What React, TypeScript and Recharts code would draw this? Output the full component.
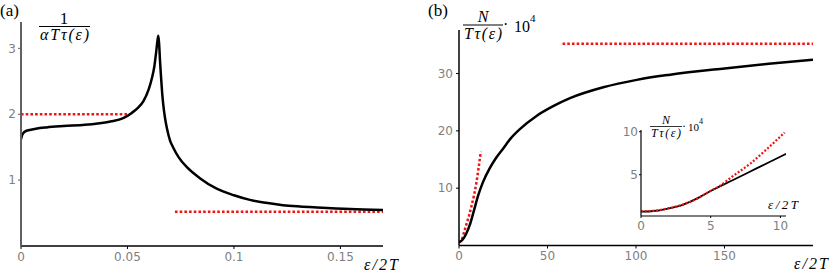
import { LineChart, Line, XAxis, YAxis } from 'recharts'

// panel (a): 1 / (alpha T tau(eps)) vs eps/2T
const aX = [0, 0.0005, 0.001, 0.002, 0.004, 0.007, 0.012, 0.02, 0.03, 0.036, 0.042, 0.048, 0.052, 0.055, 0.0575, 0.06, 0.0615, 0.0626, 0.0635, 0.0641, 0.0645, 0.0649, 0.0653, 0.0658, 0.0663, 0.0668, 0.0676, 0.0685, 0.07, 0.0714, 0.074, 0.0778, 0.084, 0.0919, 0.1, 0.1075, 0.115, 0.123, 0.131, 0.139, 0.1545, 0.17]
const aY = [1.62, 1.68, 1.71, 1.74, 1.76, 1.78, 1.8, 1.82, 1.84, 1.86, 1.89, 1.94, 2.02, 2.1, 2.2, 2.38, 2.55, 2.72, 2.95, 3.12, 3.19, 3.05, 2.8, 2.55, 2.32, 2.15, 1.95, 1.79, 1.6, 1.5, 1.35, 1.2, 1.03, 0.87, 0.77, 0.7, 0.655, 0.62, 0.6, 0.585, 0.56, 0.545]
const aLowLimitX = [0, 0.05]
const aLowLimitY = [2, 2]
const aHighLimitX = [0.0723, 0.17]
const aHighLimitY = [0.52, 0.52]
const aXTicks = [0, 0.05, 0.1, 0.15]
const aYTicks = [1, 2, 3]

// panel (b): N / (T tau(eps)) * 10^4
const bX = [0, 2, 4, 6, 8, 10.8, 13.6, 17.4, 21, 24.9, 29, 34.4, 43.8, 53.2, 62.7, 81.5, 100.4, 119.3, 150, 175, 200]
const bY = [0.6, 1.0, 2.0, 3.5, 5.6, 8.7, 11.1, 13.5, 15.3, 16.9, 18.6, 20.3, 22.6, 24.3, 25.7, 27.6, 28.9, 29.8, 30.9, 31.7, 32.4]
const bLowX = [0, 1.5, 3.2, 5, 7, 9.8, 12.3]
const bLowY = [0.5, 1.0, 2.7, 4.5, 6.8, 10.9, 16.4]
const bHighX = [58.5, 200]
const bHighY = [35.2, 35.2]
const bXTicks = [0, 50, 100, 150]
const bYTicks = [10, 20, 30]

// inset of (b)
const iX = [0, 0.9, 1.85, 3.04, 4.24, 4.96, 6.64, 7.84, 9.04, 10.4]
const iY = [0.7, 0.78, 1.04, 1.53, 2.42, 3.07, 4.42, 5.38, 6.34, 7.42]
const iRedX = [0, 0.9, 1.85, 3.04, 4.24, 4.96, 5.5, 6.64, 7.84, 9.04, 10.3]
const iRedY = [0.75, 0.8, 1.05, 1.55, 2.4, 3.1, 3.55, 4.9, 6.3, 8.0, 9.9]
const iXTicks = [0, 5, 10]
const iYTicks = [5, 10]

const zip = (xs: number[], ys: number[]) => xs.map((x, i) => ({ x, y: ys[i] }))

const RED = '#f01414'
const tickStyle = { fill: '#808080', fontSize: 12, fontFamily: 'DejaVu Sans' }
const serif = { fontFamily: "'Liberation Serif', serif", fontWeight: 400 }
const serifIt = { ...serif, fontStyle: 'italic' }

export default function App() {
  return (
    <div style={{ position: 'absolute', left: 0, top: 0, width: 830, height: 273, background: '#fff' }}>
      <div style={{ position: 'absolute', left: 0, top: 0 }}>
        <LineChart width={420} height={273} margin={{ top: 22, right: 37, left: 0, bottom: 7 }}>
          <XAxis dataKey="x" type="number" domain={[0, 0.17]} ticks={aXTicks} allowDataOverflow
            tick={tickStyle} tickSize={3} tickMargin={3} height={20}
            axisLine={{ stroke: '#000', strokeWidth: 1.5 }} tickLine={{ stroke: '#000' }} />
          <YAxis type="number" domain={[0, 3.4]} ticks={aYTicks} allowDataOverflow width={21}
            tick={tickStyle} tickSize={3} tickMargin={2}
            axisLine={{ stroke: '#606060', strokeWidth: 2 }} tickLine={{ stroke: '#606060' }} />
          <Line data={zip(aLowLimitX, aLowLimitY)} dataKey="y" type="linear" stroke={RED} strokeWidth={2.5} strokeDasharray="2.6 2.1" dot={false} isAnimationActive={false} />
          <Line data={zip(aHighLimitX, aHighLimitY)} dataKey="y" type="linear" stroke={RED} strokeWidth={2.5} strokeDasharray="2.6 2.1" dot={false} isAnimationActive={false} />
          <Line data={zip(aX, aY)} dataKey="y" type="monotone" stroke="#000" strokeWidth={2.5} dot={false} isAnimationActive={false} />
        </LineChart>
      </div>

      <div style={{ position: 'absolute', left: 420, top: 0 }}>
        <LineChart width={410} height={273} margin={{ top: 30, right: 17, left: 0, bottom: 7.5 }}>
          <XAxis dataKey="x" type="number" domain={[0, 200]} ticks={bXTicks} allowDataOverflow
            tick={tickStyle} tickSize={3} tickMargin={3} height={20}
            axisLine={{ stroke: '#000', strokeWidth: 1.5 }} tickLine={{ stroke: '#000' }} />
          <YAxis type="number" domain={[0, 37.6]} ticks={bYTicks} allowDataOverflow width={39}
            tick={tickStyle} tickSize={3} tickMargin={3}
            axisLine={{ stroke: '#000', strokeWidth: 1.5 }} tickLine={{ stroke: '#000' }} />
          <Line data={zip(bHighX, bHighY)} dataKey="y" type="linear" stroke={RED} strokeWidth={2.5} strokeDasharray="2.6 2.1" dot={false} isAnimationActive={false} />
          <Line data={zip(bLowX, bLowY)} dataKey="y" type="monotone" stroke={RED} strokeWidth={2.5} strokeDasharray="2.6 2.1" dot={false} isAnimationActive={false} />
          <Line data={zip(bX, bY)} dataKey="y" type="monotone" stroke="#000" strokeWidth={2.5} dot={false} isAnimationActive={false} />
        </LineChart>
      </div>

      <div style={{ position: 'absolute', left: 600, top: 110 }}>
        <LineChart width={200} height={130} margin={{ top: 20, right: 14, left: 0, bottom: 0 }}>
          <XAxis dataKey="x" type="number" domain={[0, 10.4]} ticks={iXTicks} allowDataOverflow
            tick={tickStyle} tickSize={2} tickMargin={3} height={24}
            axisLine={{ stroke: '#000', strokeWidth: 1.2 }} tickLine={{ stroke: '#000' }} />
          <YAxis type="number" domain={[0.2, 10.2]} ticks={iYTicks} allowDataOverflow width={41}
            tick={tickStyle} tickSize={2} tickMargin={1}
            axisLine={{ stroke: '#000', strokeWidth: 1.2 }} tickLine={{ stroke: '#000' }} />
          <Line data={zip(iX, iY)} dataKey="y" type="monotone" stroke="#000" strokeWidth={1.8} dot={false} isAnimationActive={false} />
          <Line data={zip(iRedX, iRedY)} dataKey="y" type="monotone" stroke={RED} strokeWidth={2.2} strokeDasharray="2 1.8" dot={false} isAnimationActive={false} />
        </LineChart>
      </div>

      <svg width={830} height={273} style={{ position: 'absolute', left: 0, top: 0, pointerEvents: 'none' }}>
        <g fill="#000">
          <text x={0} y={16} fontSize={17} style={serif}>(a)</text>
          <text x={428} y={16} fontSize={17} style={serif}>(b)</text>

          <text x={64} y={23.5} fontSize={17} textAnchor="middle" style={serif}>1</text>
          <line x1={39} x2={90} y1={26.5} y2={26.5} stroke="#000" strokeWidth={1} />
          <text x={40} y={40} fontSize={16} textLength={49} style={serifIt}>αTτ(ε)</text>

          <text x={483} y={21.5} fontSize={16} textAnchor="middle" style={serifIt}>N</text>
          <line x1={463} x2={503} y1={25} y2={25} stroke="#000" strokeWidth={1} />
          <text x={464} y={39} fontSize={16} textLength={38} style={serifIt}>Tτ(ε)</text>
          <text x={503} y={30} fontSize={16} style={serif}>·</text>
          <text x={514} y={32} fontSize={16} style={serif}>10</text>
          <text x={530} y={22} fontSize={11} style={serif}>4</text>

          <text x={666} y={124} fontSize={12} textAnchor="middle" style={serifIt}>N</text>
          <line x1={650} x2={682} y1={126.5} y2={126.5} stroke="#000" strokeWidth={0.8} />
          <text x={651} y={137} fontSize={12} textLength={30} style={serifIt}>Tτ(ε)</text>
          <text x={682} y={130} fontSize={12} style={serif}>·</text>
          <text x={688} y={131} fontSize={11} style={serif}>10</text>
          <text x={699} y={124} fontSize={8} style={serif}>4</text>

          <text x={364} y={270} fontSize={16} textLength={34} style={serifIt}>ε/2T</text>
          <text x={794} y={269} fontSize={16} textLength={34} style={serifIt}>ε/2T</text>
          <text x={768} y={209} fontSize={13} textLength={30} style={serifIt}>ε/2T</text>
        </g>
      </svg>
    </div>
  )
}
